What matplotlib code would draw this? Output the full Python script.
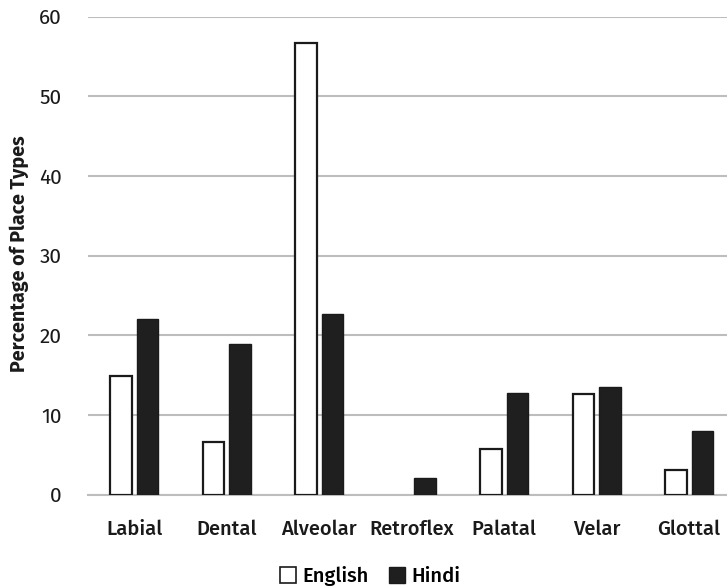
import matplotlib
matplotlib.use("Agg")
import matplotlib.pyplot as plt
import numpy as np
from matplotlib.patches import Patch

categories = ["Labial", "Dental", "Alveolar", "Retroflex", "Palatal", "Velar", "Glottal"]
english = [14.9, 6.6, 56.7, 0.0, 5.7, 12.6, 3.1]
hindi = [22.1, 18.9, 22.7, 2.1, 12.7, 13.5, 8.0]
yticks = [0, 10, 20, 30, 40, 50, 60]

FONTS = ["Fira Sans", "Open Sans", "DejaVu Sans"]
plt.rcParams["font.family"] = FONTS

W, H = 727, 588
fig = plt.figure(figsize=(W / 100, H / 100), dpi=100)
left, right = 88 / W, 1.0
bottom, top = 1 - 494.7 / H, 1 - 16.5 / H
ax = fig.add_axes([left, bottom, right - left, top - bottom])

x = np.arange(len(categories))
w = 0.232
off = 0.143
eng_bars = ax.bar(x - off, english, width=w, color="white", edgecolor="#1a1a1a", linewidth=1.6, zorder=3)
hin_bars = ax.bar(x + off, hindi, width=w, color="#1f1f1f", edgecolor="#1a1a1a", linewidth=1.0, zorder=3)
for b, v in zip(list(eng_bars) + list(hin_bars), english + hindi):
    if v == 0:
        b.set_visible(False)

ax.set_xlim(-0.5, 6.41)
ax.set_ylim(0, 60)
ax.set_yticks(yticks)
ax.set_yticklabels([str(v) for v in yticks], fontsize=15, color="#1a1a1a", fontweight="normal")
ax.yaxis.grid(True, color="#bdbdbd", linewidth=1.5, zorder=0)
ax.set_axisbelow(True)
ax.set_xticks(x)
ax.set_xticklabels(categories, fontsize=14.5, fontweight="medium", color="#1a1a1a")
ax.tick_params(axis="both", length=0)
ax.tick_params(axis="x", pad=18)
ax.tick_params(axis="y", pad=19)
for s in ["top", "right", "left"]:
    ax.spines[s].set_visible(False)
ax.spines["bottom"].set_color("#bdbdbd")
ax.spines["bottom"].set_linewidth(1.5)

ax.set_ylabel("Percentage of Place Types", fontsize=14.2, fontweight="bold", color="#1a1a1a")
ax.yaxis.set_label_coords(-(88 - 29) / (W * (right - left)), (494.7 - 254) / (494.7 - 16.5))

handles = [Patch(facecolor="white", edgecolor="#1a1a1a", linewidth=1.2, label="English"),
           Patch(facecolor="#1f1f1f", edgecolor="#1a1a1a", linewidth=1.0, label="Hindi")]
fig.legend(handles=handles, loc="center", bbox_to_anchor=(370 / W, 1 - 576 / H), ncol=2,
           frameon=False, handlelength=0.8, handleheight=0.8,
           handletextpad=0.3, columnspacing=1.0, prop={"family": FONTS, "weight": "medium", "size": 14.5})

fig.savefig("out.png", dpi=100)
